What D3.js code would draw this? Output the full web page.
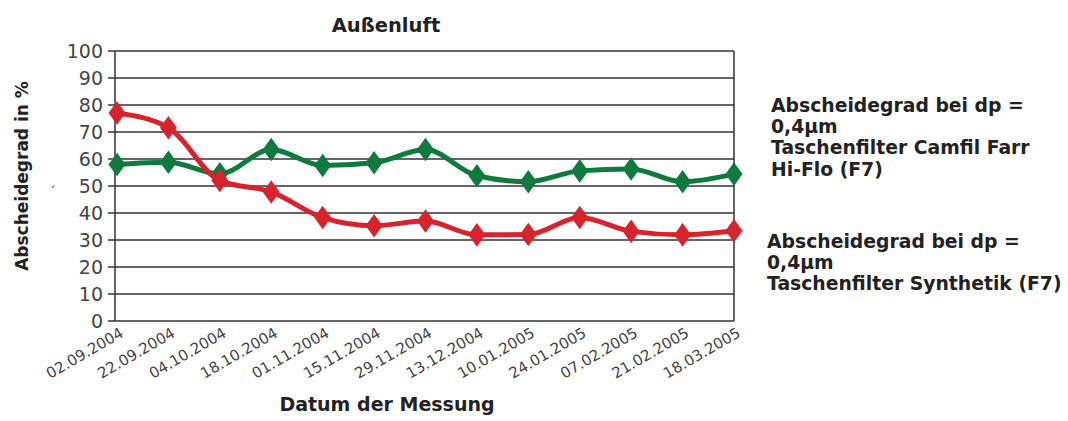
<!DOCTYPE html>
<html>
<head>
<meta charset="utf-8">
<script src="https://cdn.jsdelivr.net/npm/d3@7"></script>
<style>
  body { margin: 0; background: #fff; }
  svg { font-family: "DejaVu Sans", sans-serif; }
  .grid line { stroke: #333; stroke-width: 1.5; }
  .yaxis text { font-size: 19px; fill: #444; font-family: "DejaVu Sans", sans-serif; }
  .xaxis text { font-size: 15px; fill: #444; font-family: "DejaVu Sans", sans-serif; }
  .lbl { font-weight: bold; fill: #222; }
</style>
</head>
<body>
<script>
(function (){

    //data
    var dates = ["02.09.2004", "22.09.2004", "04.10.2004", "18.10.2004", "01.11.2004",
                 "15.11.2004", "29.11.2004", "13.12.2004", "10.01.2005", "24.01.2005",
                 "07.02.2005", "21.02.2005", "18.03.2005"];
    var camfil = [58, 58.8, 54.5, 63.5, 57.6, 58.6, 63.5, 53.8, 51.6, 55.6, 56.3, 51.6, 54.4];
    var synthetik = [77, 71.6, 52, 47.8, 38.3, 35.3, 37, 31.9, 32, 38.3, 33.2, 31.9, 33.4];
    var yTicks = [0, 10, 20, 30, 40, 50, 60, 70, 80, 90, 100];
    var legendCamfil = ["Abscheidegrad bei dp =", "0,4µm", "Taschenfilter Camfil Farr", "Hi-Flo (F7)"];
    var legendSynth = ["Abscheidegrad bei dp =", "0,4µm", "Taschenfilter Synthetik (F7)"];

    var width = 1068, height = 421;
    var left = 115, right = 734, top = 51, bottom = 321;

    var svg = d3.select("body").append("svg")
        .attr("width", width)
        .attr("height", height);

    var x = d3.scalePoint()
        .domain(dates)
        .range([left + 2, right]);

    var y = d3.scaleLinear()
        .domain([0, 100])
        .range([bottom, top]);

    //horizontal grid lines
    svg.append("g")
        .attr("class", "grid")
        .selectAll("line")
        .data(yTicks)
        .enter()
        .append("line")
        .attr("x1", left - 7)
        .attr("x2", right)
        .attr("y1", function(d){ return y(d); })
        .attr("y2", function(d){ return y(d); });

    //frame: left and right edges
    svg.append("line")
        .attr("x1", left).attr("x2", left)
        .attr("y1", top).attr("y2", bottom)
        .attr("stroke", "#333").attr("stroke-width", 1.5);
    svg.append("line")
        .attr("x1", right).attr("x2", right)
        .attr("y1", top).attr("y2", bottom)
        .attr("stroke", "#333").attr("stroke-width", 1.5);

    //y axis labels
    var yAxis = svg.append("g")
        .attr("class", "yaxis")
        .attr("transform", "translate(" + (left - 10) + ",0)")
        .call(d3.axisLeft(y).tickValues(yTicks).tickSize(0).tickPadding(2));
    yAxis.select(".domain").remove();

    //x axis labels, rotated
    var xAxis = svg.append("g")
        .attr("class", "xaxis")
        .attr("transform", "translate(0," + bottom + ")")
        .call(d3.axisBottom(x).tickSize(0));
    xAxis.select(".domain").remove();
    xAxis.selectAll("text")
        .attr("text-anchor", "end")
        .attr("y", 0)
        .attr("dy", null)
        .attr("transform", "translate(7,15) rotate(-30)");

    //series
    var line = d3.line()
        .x(function(d, i){ return x(dates[i]); })
        .y(function(d){ return y(d); })
        .curve(d3.curveMonotoneX);

    var series = [
        { values: camfil, color: "#0f7a3e" },
        { values: synthetik, color: "#d9232c" }
    ];

    var diamond = d3.symbol().type(d3.symbolDiamond).size(160);

    series.forEach(function(s){
        svg.append("path")
            .datum(s.values)
            .attr("fill", "none")
            .attr("stroke", s.color)
            .attr("stroke-width", 5)
            .attr("stroke-linejoin", "round")
            .attr("d", line);

        svg.selectAll(null)
            .data(s.values)
            .enter()
            .append("path")
            .attr("d", diamond)
            .attr("fill", s.color)
            .attr("transform", function(d, i){
                return "translate(" + x(dates[i]) + "," + y(d) + ") scale(1.25,1)";
            });
    });

    //title and axis labels
    svg.append("text")
        .attr("class", "lbl")
        .attr("x", 386).attr("y", 32)
        .attr("text-anchor", "middle")
        .attr("font-size", 19.5)
        .text("Außenluft");

    svg.append("text")
        .attr("class", "lbl")
        .attr("x", 387).attr("y", 411)
        .attr("text-anchor", "middle")
        .attr("font-size", 19)
        .text("Datum der Messung");

    svg.append("text")
        .attr("class", "lbl")
        .attr("transform", "translate(28,176) rotate(-90)")
        .attr("text-anchor", "middle")
        .attr("font-size", 17)
        .text("Abscheidegrad in %");

    svg.append("text")
        .attr("x", 49).attr("y", 197)
        .attr("font-size", 14)
        .attr("fill", "#555")
        .text("´");

    //legend texts
    function legend(lines, x0, y0){
        svg.append("text")
            .attr("class", "lbl")
            .attr("font-size", 18.8)
            .selectAll("tspan")
            .data(lines)
            .enter()
            .append("tspan")
            .attr("x", x0)
            .attr("y", function(d, i){ return y0 + i * 21.2; })
            .text(function(d){ return d; });
    }
    legend(legendCamfil, 771, 112);
    legend(legendSynth, 767, 248);

})();
</script>
</body>
</html>
